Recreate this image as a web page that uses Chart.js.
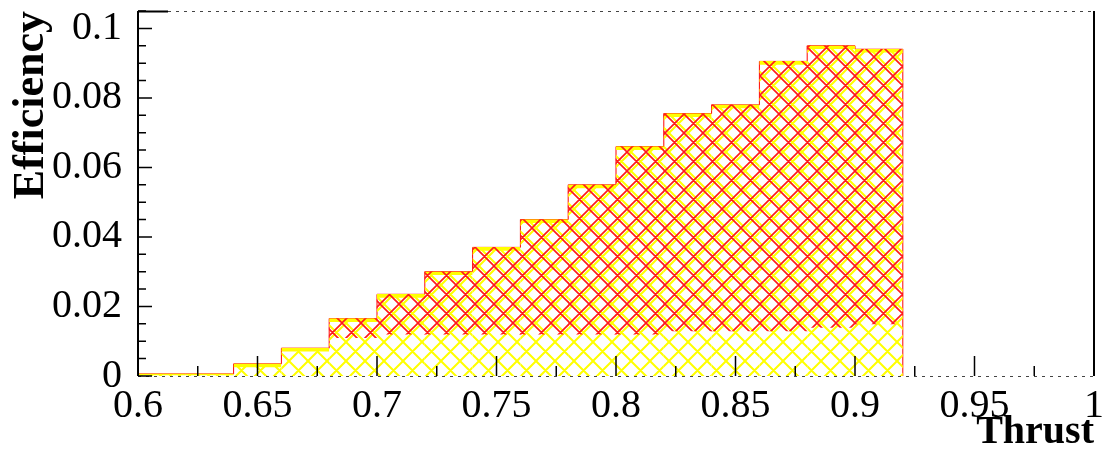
<!DOCTYPE html>
<html>
<head>
<meta charset="utf-8">
<script src="https://cdn.jsdelivr.net/npm/chart.js@4/dist/chart.umd.min.js"></script>
<style>
  html, body { margin: 0; padding: 0; background: #fff; }
  canvas { display: block; }
</style>
</head>
<body>
<canvas id="chart" width="1104" height="454"></canvas>
<script>
// histogram bins (edges), efficiency per bin, and the floor of the red hatched band
const binEdges = [0.60, 0.62, 0.64, 0.66, 0.68, 0.70, 0.72, 0.74, 0.76, 0.78, 0.80, 0.82, 0.84, 0.86, 0.88, 0.90, 0.92]
const efficiency = [0.0006, 0.0006, 0.0035, 0.008, 0.0165, 0.0235, 0.030, 0.037, 0.045, 0.055, 0.066, 0.0755, 0.078, 0.0905, 0.095, 0.094]
const redFloor = [null, null, null, null, 0.011, 0.012, 0.012, 0.012, 0.012, 0.012, 0.012, 0.013, 0.013, 0.013, 0.014, 0.015]

const xTicks = [0.6, 0.65, 0.7, 0.75, 0.8, 0.85, 0.9, 0.95, 1]
const xMinorTicks = [0.625, 0.675, 0.725, 0.775, 0.825, 0.875, 0.925, 0.975]
const yTicks = [0, 0.02, 0.04, 0.06, 0.08, 0.1]
const yMinorTicks = [0.005, 0.01, 0.015, 0.025, 0.03, 0.035, 0.045, 0.05, 0.055, 0.065, 0.07, 0.075, 0.085, 0.09, 0.095, 0.105]

const FONT = "'Liberation Serif', 'DejaVu Serif', serif"

const makeHatch = (color, width, shift) => {
  const s = 19
  const tile = document.createElement('canvas')
  tile.width = s
  tile.height = s
  const c = tile.getContext('2d')
  c.strokeStyle = color
  c.lineWidth = width
  c.beginPath()
  for (let k = -3; k <= 3; k++) {
    c.moveTo(k * s - s, -s); c.lineTo(k * s + 2 * s, 2 * s)
    c.moveTo(k * s + s, -s); c.lineTo(k * s - 2 * s, 2 * s)
  }
  c.stroke()
  const p = c.createPattern(tile, 'repeat')
  p.setTransform(new DOMMatrix([1, 0, 0, 1, shift, 0]))
  return p
}

const centers = efficiency.map((_, i) => (binEdges[i] + binEdges[i + 1]) / 2)
const yellowBars = efficiency.map((v, i) => ({ x: centers[i], y: v }))
const redBars = efficiency.map((v, i) => ({ x: centers[i], y: redFloor[i] === null ? null : [redFloor[i], v] }))
const outline = binEdges.map((e, i) => ({ x: e, y: efficiency[Math.min(i, efficiency.length - 1)] }))
outline.push({ x: binEdges[binEdges.length - 1], y: 0 })

const fmt = v => String(Number(v.toFixed(3)))

const frameAndTicks = {
  id: 'frameAndTicks',
  afterDatasetsDraw(chart) {
    const { ctx, chartArea: a, scales: { x, y } } = chart
    ctx.save()
    ctx.strokeStyle = '#000'
    ctx.lineWidth = 2
    ctx.beginPath()
    ctx.moveTo(a.left, a.top); ctx.lineTo(a.left, a.bottom)
    ctx.moveTo(a.right, a.top); ctx.lineTo(a.right, a.bottom)
    ctx.moveTo(a.left, a.top + 0.5); ctx.lineTo(a.left + 30, a.top + 0.5)
    ctx.stroke()

    ctx.lineWidth = 1
    ctx.strokeStyle = '#444'
    ctx.setLineDash([3, 5])
    ctx.beginPath()
    ctx.moveTo(a.left + 30, a.top + 0.5); ctx.lineTo(a.right, a.top + 0.5)
    ctx.moveTo(a.left, a.bottom + 0.5); ctx.lineTo(a.right, a.bottom + 0.5)
    ctx.stroke()
    ctx.setLineDash([])

    ctx.strokeStyle = '#000'
    ctx.lineWidth = 1.5
    ctx.beginPath()
    xTicks.forEach(v => { const px = x.getPixelForValue(v); ctx.moveTo(px, a.bottom); ctx.lineTo(px, a.bottom - 20) })
    xMinorTicks.forEach(v => { const px = x.getPixelForValue(v); ctx.moveTo(px, a.bottom); ctx.lineTo(px, a.bottom - 10) })
    yTicks.forEach(v => { const py = y.getPixelForValue(v); ctx.moveTo(a.left, py); ctx.lineTo(a.left + 14, py) })
    yMinorTicks.forEach(v => { const py = y.getPixelForValue(v); ctx.moveTo(a.left, py); ctx.lineTo(a.left + 8, py) })
    ctx.stroke()
    ctx.restore()
  },
}

new Chart(document.getElementById('chart'), {
  type: 'bar',
  data: {
    datasets: [
      {
        type: 'line',
        data: outline,
        stepped: 'before',
        borderColor: '#ff0000',
        borderWidth: 1,
        pointRadius: 0,
        fill: false,
        order: 4,
      },
      {
        data: yellowBars,
        backgroundColor: makeHatch('#ffff00', 2, 4),
        borderColor: '#ffff00',
        borderWidth: { top: 3, left: 0, right: 0, bottom: 0 },
        grouped: false,
        barPercentage: 1,
        categoryPercentage: 1,
        order: 3,
      },
      {
        data: redBars,
        backgroundColor: makeHatch('#ff1a1a', 1.6, 0),
        borderWidth: 0,
        grouped: false,
        barPercentage: 1,
        categoryPercentage: 1,
        order: 2,
      },
    ],
  },
  options: {
    responsive: false,
    devicePixelRatio: 1,
    animation: false,
    layout: { padding: { top: 11, right: 10, left: 0, bottom: 0 } },
    plugins: { legend: { display: false }, tooltip: { enabled: false } },
    scales: {
      x: {
        type: 'linear',
        min: 0.6,
        max: 1,
        offset: false,
        grid: { display: false, drawTicks: false },
        border: { display: false },
        ticks: {
          stepSize: 0.05,
          padding: 10,
          maxRotation: 0,
          color: '#000',
          font: { family: FONT, size: 40, lineHeight: 1 },
          callback: v => fmt(v),
        },
        title: {
          display: true,
          text: 'Thrust',
          align: 'end',
          color: '#000',
          padding: { top: 0, bottom: 1 },
          font: { family: FONT, size: 40, weight: 'bold', lineHeight: 1 },
        },
        afterFit: s => { s.height = 78; s.paddingLeft = 0; s.paddingRight = 0 },
      },
      y: {
        min: 0,
        max: 0.105,
        grid: { display: false, drawTicks: false },
        border: { display: false },
        ticks: {
          stepSize: 0.02,
          includeBounds: false,
          padding: 16,
          color: '#000',
          font: { family: FONT, size: 40, lineHeight: 1 },
          callback: v => fmt(v),
        },
        title: {
          display: true,
          text: 'Efficiency',
          align: 'end',
          color: '#000',
          padding: { top: 10, bottom: 0 },
          font: { family: FONT, size: 44, weight: 'bold', lineHeight: 1 },
        },
        afterFit: s => { s.width = 138; s.paddingTop = 0; s.paddingBottom = 0 },
      },
    },
  },
  plugins: [frameAndTicks],
})
</script>
</body>
</html>
